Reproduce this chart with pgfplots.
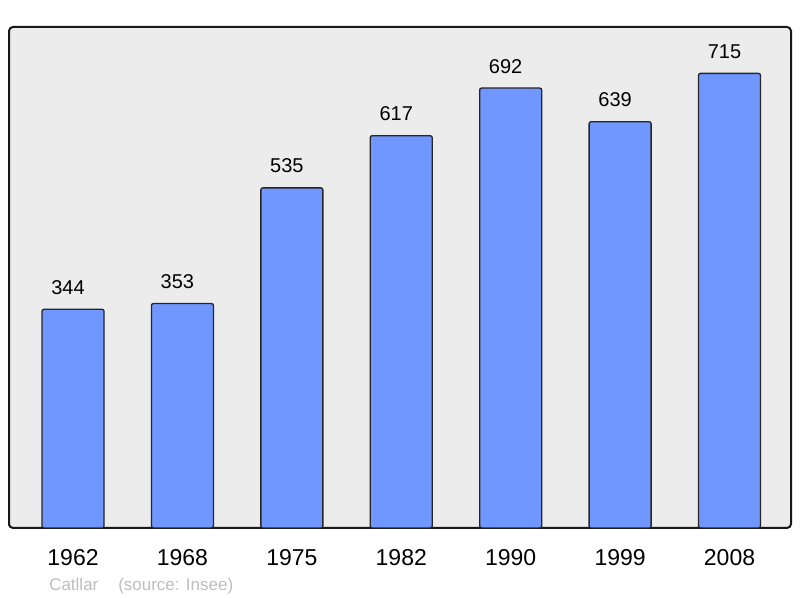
\documentclass[border=0pt]{standalone}
\usepackage{pgfplots}
\pgfplotsset{compat=1.18}
\usepackage{fontspec}
\setmainfont{Liberation Sans}
\definecolor{barfill}{RGB}{112,150,255}
\definecolor{panel}{RGB}{236,236,236}
\definecolor{srcgray}{RGB}{190,190,190}

\begin{document}
\begin{tikzpicture}
\path[use as bounding box] (-6.75pt,-52.5pt) rectangle (593.25pt,396pt);
\begin{axis}[
    at={(0pt,0pt)}, anchor=south west,
    scale only axis,
    width=586.5pt, height=375.75pt,
    xmin=-0.585, xmax=6.562,
    ymin=0, ymax=788,
    axis background/.style={fill=panel},
    axis line style={line width=1.5pt, rounded corners=3pt, black!90},
    xtick=data,
    xticklabels={1962,1968,1975,1982,1990,1999,2008},
    ytick=\empty,
    major tick length=0pt,
    xticklabel style={font=\fontsize{17.25pt}{20pt}\selectfont, anchor=base, yshift=-28.5pt},
    /pgf/number format/assume math mode=true,
    nodes near coords,
    nodes near coords style={font=\fontsize{15pt}{18pt}\selectfont, anchor=base, inner sep=0pt, yshift=11.25pt, xshift=-3.75pt, black},
    clip=false,
]
\addplot[ybar, bar width=46.5pt, fill=barfill, draw=black!85, line width=1pt, rounded corners=1.5pt] coordinates {
    (0,344) (1,353) (2,535) (3,617) (4,692) (5,639) (6,715)
};
\end{axis}
\node[anchor=base west, text=srcgray, font=\fontsize{12.75pt}{15pt}\selectfont, inner sep=0pt] at (30pt,-47.25pt) {Catllar};
\node[anchor=base west, text=srcgray, font=\fontsize{12.75pt}{15pt}\selectfont, inner sep=0pt] at (81.75pt,-47.25pt) {(source: Insee)};
\end{tikzpicture}
\end{document}
